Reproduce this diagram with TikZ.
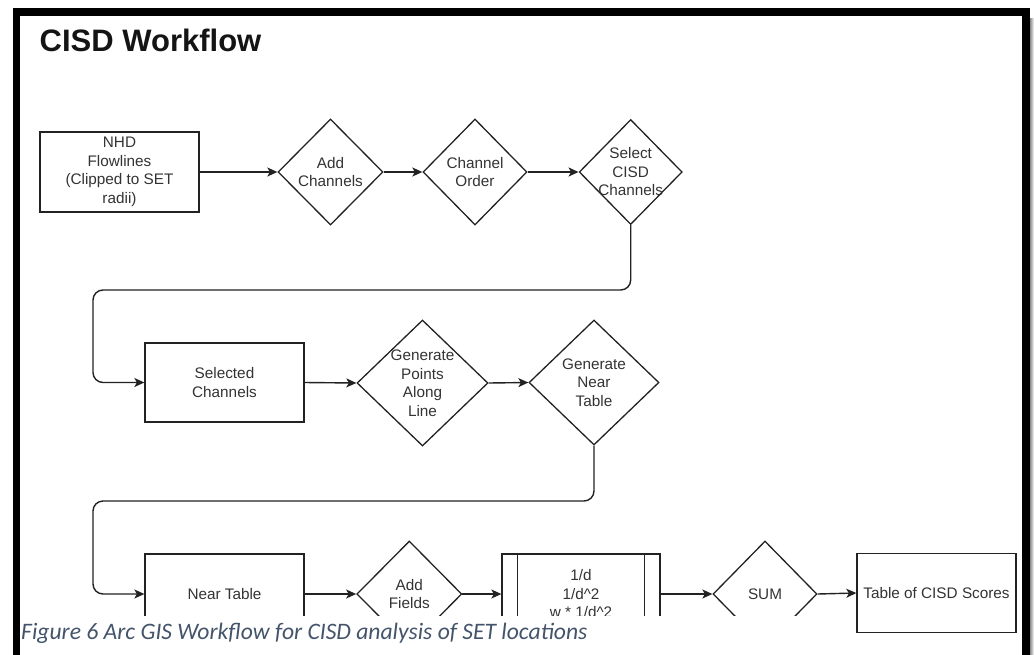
\documentclass[tikz,border=0pt]{standalone}
\usepackage{fontspec}
\setmainfont{Liberation Sans}
\newfontfamily\capfont{Carlito}
\usetikzlibrary{shapes.geometric,arrows.meta}
\definecolor{ink}{HTML}{333333}
\definecolor{edge}{HTML}{222222}
\definecolor{capblue}{HTML}{44546A}

\begin{document}
\begin{tikzpicture}[x=1pt,y=-1pt,
  every node/.style={font=\fontsize{15.3}{18.5}\selectfont, text=ink},
  txt/.style={align=center, inner sep=0pt},
  box/.style={draw=edge, line width=1.3pt, rectangle, inner sep=0pt, align=center},
  dia/.style={draw=edge, line width=1.3pt, diamond, inner sep=0pt},
  flow/.style={draw=edge, line width=1.4pt, -{Stealth[length=10pt,width=9pt,inset=2.5pt]}},
  lane/.style={flow, rounded corners=10pt}
]
\useasboundingbox (0,0) rectangle (1034,654);
\clip (0,0) rectangle (1034,654);

% window frame and its soft shadow
\fill[left color=black!45, right color=white] (1030,18) rectangle (1034,654);
\draw[line width=7.8pt, line join=miter] (16.4,670) -- (16.4,12.2) -- (1026,12.2) -- (1026,670);

% title
\node[anchor=base west, inner sep=0pt, font=\bfseries\fontsize{31}{36}\selectfont, text=black!92] (title) at (39.5,51.7) {CISD Workflow};

% first row
\node[box, minimum width=159pt, minimum height=80pt] (nhd) at (119.5,172) {NHD\\Flowlines\\(Clipped to SET\\radii)};
\node[dia, minimum width=105pt, minimum height=106pt, label={[txt]center:{Add\\Channels}}] (add) at (330.5,172) {};
\node[dia, minimum width=104pt, minimum height=106pt, label={[txt]center:{Channel\\Order}}] (ord) at (475,172) {};
\node[dia, minimum width=103pt, minimum height=105pt, label={[txt]center:{Select\\CISD\\Channels}}] (sel) at (630.7,172) {};

% second row
\node[box, minimum width=159pt, minimum height=79pt] (selc) at (224.5,382.5) {Selected\\Channels};
\node[dia, minimum width=131pt, minimum height=126pt, label={[txt]center:{Generate\\Points\\Along\\Line}}] (pts) at (422.5,383) {};
\node[dia, minimum width=130pt, minimum height=125pt, label={[txt]center:{Generate\\Near\\Table}}] (near) at (594,382.5) {};

% third row
\node[box, minimum width=159pt, minimum height=80pt] (ntab) at (224.5,594) {Near Table};
\node[dia, minimum width=105pt, minimum height=106pt, label={[txt]center:{Add\\Fields}}] (fld) at (409.3,594) {};
\node[box, minimum width=158pt, minimum height=80pt] (proc) at (581,594) {1/d\\1/d\^{}2\\w * 1/d\^{}2};
\draw[draw=edge, line width=1.3pt] ([xshift=16pt]proc.north west) -- ([xshift=16pt]proc.south west);
\draw[draw=edge, line width=1.3pt] ([xshift=-16pt]proc.north east) -- ([xshift=-16pt]proc.south east);
\node[dia, minimum width=104pt, minimum height=106pt, label={[txt]center:{SUM}}] (sum) at (765,594) {};
\node[box, minimum width=159pt, minimum height=79.4pt] (score) at (936.5,593) {Table of CISD Scores};

% turning points of the two return lanes
\coordinate (lane1) at (93,290);
\coordinate (lane2) at (93,501);

% connectors
\draw[flow] (nhd.east) -- (add.west);
\draw[flow] (add.east) -- (ord.west);
\draw[flow] (ord.east) -- (sel.west);
\draw[lane] (sel.south) |- (lane1) |- (selc.west);
\draw[flow] (selc.east) -- (pts.west);
\draw[flow] (pts.east) -- (near.west);
\draw[lane] (near.south) |- (lane2) |- (ntab.west);
\draw[flow] (ntab.east) -- (fld.west);
\draw[flow] (fld.east) -- (proc.west);
\draw[flow] (proc.east) -- (sum.west);
\draw[flow] (sum.east) -- (score.west);

% caption strip over the lower edge
\fill[white] (20.5,616.3) rectangle (842,654);
\node[anchor=base west, inner sep=0pt, font=\capfont\itshape\fontsize{23.6}{28}\selectfont, text=capblue] (cap) at (21,639) {Figure 6 Arc GIS Workflow for CISD analysis of SET locations};
\end{tikzpicture}
\end{document}
